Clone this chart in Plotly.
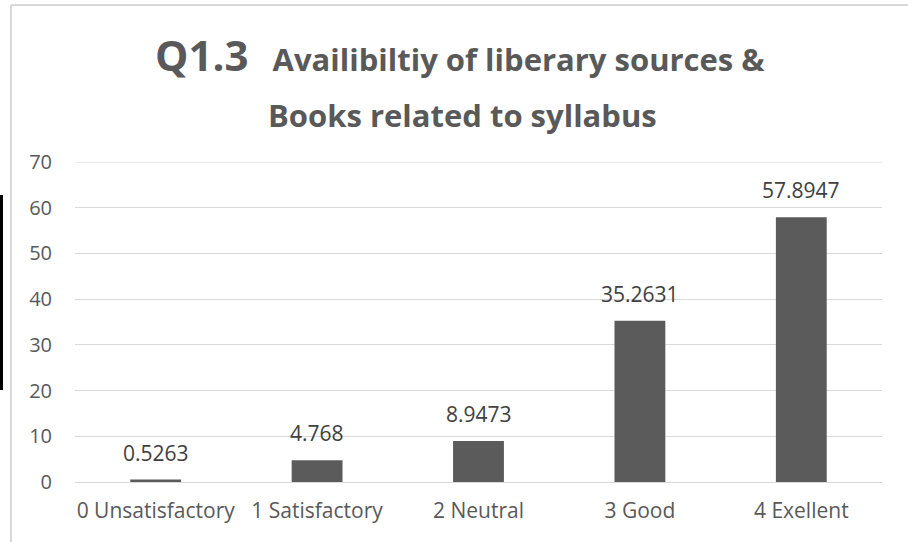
import plotly.graph_objects as go

categories = ["0 Unsatisfactory", "1 Satisfactory", "2 Neutral", "3 Good", "4 Exellent"]
values = [0.5263, 4.768, 8.9473, 35.2631, 57.8947]
value_labels = ["0.5263", "4.768", "8.9473", "35.2631", "57.8947"]
y_ticks = [0, 10, 20, 30, 40, 50, 60, 70]

W, H = 908, 542
ML, MR, MT, MB = 75, 26, 162, 60
PW, PH = W - ML - MR, H - MT - MB

def px(x):
    return (x - ML) / PW

def py(y):
    return (H - MB - y) / PH

FONT = "Open Sans"
fig = go.Figure(go.Bar(
    x=categories, y=values,
    marker=dict(color="#5b5b5b", line=dict(width=0)),
))

annotations = [
    dict(x=c, y=v, xref="x", yref="y", text=t, showarrow=False, yanchor="bottom",
         yshift=11, font=dict(size=21, color="#404040", family=FONT))
    for c, v, t in zip(categories, values, value_labels)
]
annotations += [
    dict(xref="paper", yref="paper", x=px(460), y=py(55), xanchor="center", yanchor="middle",
         showarrow=False,
         text="<b><span style='font-size:42px'>Q1.3</span>   Availibiltiy of liberary sources &</b>",
         font=dict(size=31, color="#595959", family=FONT)),
    dict(xref="paper", yref="paper", x=px(462), y=py(115), xanchor="center", yanchor="middle",
         showarrow=False,
         text="<b>Books related to syllabus</b>",
         font=dict(size=31, color="#595959", family=FONT)),
]

fig.update_layout(
    width=W, height=H,
    margin=dict(l=ML, r=MR, t=MT, b=MB),
    paper_bgcolor="white", plot_bgcolor="white",
    bargap=0.685,
    showlegend=False,
    font=dict(family=FONT, color="#595959"),
    xaxis=dict(showgrid=False, showline=False, ticks="", ticklabelstandoff=14,
               tickfont=dict(size=21, color="#595959", family=FONT)),
    yaxis=dict(range=[0, 70], tickvals=y_ticks, showgrid=True, gridcolor="#d9d9d9",
               gridwidth=1, zeroline=True, zerolinecolor="#d9d9d9", zerolinewidth=1,
               showline=False, ticks="", ticklabelstandoff=22,
               tickfont=dict(size=20, color="#595959", family=FONT)),
    annotations=annotations,
    shapes=[
        dict(type="line", xref="paper", yref="y", x0=0, x1=1, y0=y_ticks[-1], y1=y_ticks[-1],
             line=dict(color="#d9d9d9", width=1), layer="below"),
        dict(type="line", xref="paper", yref="paper", x0=px(11), x1=px(908), y0=py(5), y1=py(5),
             line=dict(color="#d9d9d9", width=2)),
        dict(type="line", xref="paper", yref="paper", x0=px(11), x1=px(11), y0=py(5), y1=py(542),
             line=dict(color="#d9d9d9", width=2)),
        dict(type="rect", xref="paper", yref="paper", x0=px(0), x1=px(3), y0=py(390), y1=py(195),
             fillcolor="black", line=dict(width=0)),
    ],
)

fig.write_html("out.html", config={"displayModeBar": False},
               post_script="document.body.style.margin='0';")
